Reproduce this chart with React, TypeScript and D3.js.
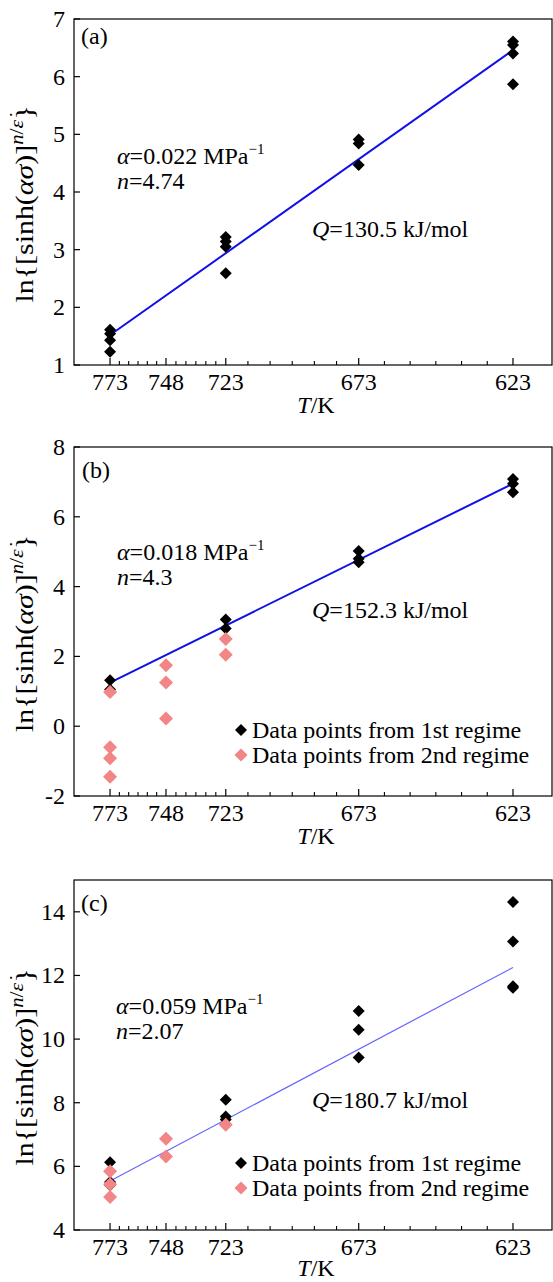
import React from "react";
import * as d3 from "d3";

// ---------- data ----------
const tempTicks = [773, 748, 723, 673, 623];

// Panel (a)
const aBlackT = [773, 773, 773, 773, 723, 723, 723, 723, 673, 673, 673, 623, 623, 623, 623];
const aBlackV = [1.61, 1.54, 1.43, 1.23, 3.22, 3.14, 3.05, 2.59, 4.91, 4.84, 4.47, 6.61, 6.55, 6.4, 5.87];
const aFitT = [773, 623];
const aFitV = [1.52, 6.46];

// Panel (b)
const bBlackT = [773, 773, 723, 723, 673, 673, 673, 623, 623, 623];
const bBlackV = [1.32, 1.05, 3.06, 2.8, 5.02, 4.8, 4.7, 7.08, 6.95, 6.7];
const bPinkT = [773, 773, 773, 773, 748, 748, 748, 723, 723];
const bPinkV = [0.98, -0.6, -0.92, -1.45, 1.75, 1.25, 0.22, 2.5, 2.05];
const bFitT = [773, 623];
const bFitV = [1.25, 6.95];

// Panel (c)
const cBlackT = [773, 773, 773, 723, 723, 723, 673, 673, 673, 623, 623, 623, 623];
const cBlackV = [6.13, 5.51, 5.41, 8.09, 7.57, 7.47, 10.88, 10.29, 9.42, 14.31, 13.07, 11.66, 11.61];
const cPinkT = [773, 773, 773, 748, 748, 723];
const cPinkV = [5.85, 5.44, 5.04, 6.87, 6.31, 7.31];
const cFitT = [773, 623];
const cFitV = [5.54, 12.25];

const yTicksA = [1, 2, 3, 4, 5, 6, 7];
const yTicksB = [-2, 0, 2, 4, 6, 8];
const yTicksC = [4, 6, 8, 10, 12, 14];

const legendLabels = ["Data points from 1st regime", "Data points from 2nd regime"];

// ---------- drawing ----------
const FONT = "'Liberation Serif', 'Times New Roman', Times, serif";
const FS = 24;
const LEFT = 74;
const RIGHT = 552;
const inv = (T: number) => 1000 / T;

const x = d3.scaleLinear().domain([1.2658, 1.6353]).range([LEFT, RIGHT]);

function minorTicks(): number[] {
  const out: number[] = [];
  const majors = tempTicks.map(inv);
  for (let i = 0; i < majors.length - 1; i++) {
    const a = majors[i], b = majors[i + 1];
    for (let k = 1; k < 6; k++) out.push(a + ((b - a) * k) / 6);
  }
  return out;
}

function Diamond({ cx, cy, r, fill }: { cx: number; cy: number; r: number; fill: string }) {
  return (
    <path
      d={`M${cx},${cy - r}L${cx + r},${cy}L${cx},${cy + r}L${cx - r},${cy}Z`}
      fill={fill}
    />
  );
}

type PanelProps = {
  top: number;
  bottom: number;
  yDomain: [number, number];
  yTicks: number[];
  tag: string;
  tagPos: [number, number];
  alpha: string;
  nVal: string;
  alphaPos: [number, number];
  q: string;
  qPos: [number, number];
  blackT: number[];
  blackV: number[];
  pinkT?: number[];
  pinkV?: number[];
  fitT: number[];
  fitV: number[];
  lineColor: string;
  lineWidth: number;
  legendPos?: [number, number];
  xLabelOffset: number;
};

function Panel(p: PanelProps) {
  const y = d3.scaleLinear().domain(p.yDomain).range([p.bottom, p.top]);
  const line = d3
    .line<number>()
    .x((_, i) => x(inv(p.fitT[i])))
    .y((v) => y(v));
  const midY = (p.top + p.bottom) / 2 + 12;
  return (
    <g fontFamily={FONT} fontSize={FS} fill="#000">
      <rect x={LEFT} y={p.top} width={RIGHT - LEFT} height={p.bottom - p.top} fill="none" stroke="#000" strokeWidth={1.2} />
      {/* x ticks */}
      {tempTicks.map((t) => (
        <g key={t}>
          <line x1={x(inv(t))} x2={x(inv(t))} y1={p.bottom} y2={p.bottom - 7} stroke="#000" strokeWidth={1.2} />
          <text x={x(inv(t))} y={p.bottom + 25} textAnchor="middle">{t}</text>
        </g>
      ))}
      {minorTicks().map((v, i) => (
        <line key={i} x1={x(v)} x2={x(v)} y1={p.bottom} y2={p.bottom - 4} stroke="#000" strokeWidth={1.1} />
      ))}
      {/* y ticks */}
      {p.yTicks.map((t) => (
        <g key={t}>
          <line x1={LEFT} x2={LEFT + 6} y1={y(t)} y2={y(t)} stroke="#000" strokeWidth={1.2} />
          <text x={LEFT - 9} y={y(t) + 8} textAnchor="end">{t}</text>
        </g>
      ))}
      {/* axis labels */}
      <text x={316} y={p.bottom + p.xLabelOffset} textAnchor="middle">
        <tspan fontStyle="italic">T</tspan>/K
      </text>
      <text
        transform={`translate(33,${midY}) rotate(-90) scale(1.15,1)`}
        textAnchor="middle"
        fontSize={26}
      >
        ln{"{"}[sinh(<tspan fontStyle="italic">ασ</tspan>)]
        <tspan fontStyle="italic" fontSize={18} dy={-10}>n</tspan>
        <tspan fontSize={19}>/</tspan>
        <tspan fontStyle="italic" fontSize={19}>ε̇</tspan>
        <tspan dy={10}>{"}"}</tspan>
      </text>
      {/* annotations */}
      <text x={p.tagPos[0]} y={p.tagPos[1]}>{p.tag}</text>
      <text x={p.alphaPos[0]} y={p.alphaPos[1]}>
        <tspan fontStyle="italic">α</tspan>=<tspan>{p.alpha} MPa</tspan>
        <tspan fontSize={15} dy={-10}>−1</tspan>
      </text>
      <text x={p.alphaPos[0]} y={p.alphaPos[1] + 25}>
        <tspan fontStyle="italic">n</tspan>={p.nVal}
      </text>
      <text x={p.qPos[0]} y={p.qPos[1]}>
        <tspan fontStyle="italic">Q</tspan>={p.q} kJ/mol
      </text>
      {/* fit line */}
      <path d={line(p.fitV) || ""} fill="none" stroke={p.lineColor} strokeWidth={p.lineWidth} />
      {/* points */}
      {p.blackV.map((v, i) => (
        <Diamond key={"b" + i} cx={x(inv(p.blackT[i]))} cy={y(v)} r={6} fill="#000" />
      ))}
      {p.pinkV &&
        p.pinkV.map((v, i) => (
          <Diamond key={"p" + i} cx={x(inv(p.pinkT![i]))} cy={y(v)} r={7} fill="#f28585" />
        ))}
      {p.legendPos && (
        <g>
          <Diamond cx={p.legendPos[0]} cy={p.legendPos[1] - 8} r={6} fill="#000" />
          <text x={p.legendPos[0] + 11} y={p.legendPos[1]}>{legendLabels[0]}</text>
          <Diamond cx={p.legendPos[0]} cy={p.legendPos[1] + 17} r={6.5} fill="#f28585" />
          <text x={p.legendPos[0] + 11} y={p.legendPos[1] + 25}>{legendLabels[1]}</text>
        </g>
      )}
    </g>
  );
}

export default function App() {
  return (
    <svg
      width={553}
      height={1282}
      style={{ position: "absolute", left: 0, top: 0, background: "#fff" }}
    >
      <rect width={553} height={1282} fill="#fff" />
      <Panel
        top={19}
        bottom={365}
        yDomain={[1, 7]}
        yTicks={yTicksA}
        tag="(a)"
        tagPos={[81, 44]}
        alpha="0.022"
        nVal="4.74"
        alphaPos={[117, 164]}
        q="130.5"
        qPos={[312, 237]}
        blackT={aBlackT}
        blackV={aBlackV}
        fitT={aFitT}
        fitV={aFitV}
        lineColor="#1010e8"
        lineWidth={2}
        xLabelOffset={48}
      />
      <Panel
        top={447}
        bottom={796}
        yDomain={[-2, 8]}
        yTicks={yTicksB}
        tag="(b)"
        tagPos={[82, 478]}
        alpha="0.018"
        nVal="4.3"
        alphaPos={[117, 560]}
        q="152.3"
        qPos={[312, 618]}
        blackT={bBlackT}
        blackV={bBlackV}
        pinkT={bPinkT}
        pinkV={bPinkV}
        fitT={bFitT}
        fitV={bFitV}
        lineColor="#1010e8"
        lineWidth={2}
        legendPos={[241, 738]}
        xLabelOffset={48}
      />
      <Panel
        top={880}
        bottom={1230}
        yDomain={[4, 15]}
        yTicks={yTicksC}
        tag="(c)"
        tagPos={[81, 911]}
        alpha="0.059"
        nVal="2.07"
        alphaPos={[116, 1014]}
        q="180.7"
        qPos={[312, 1108]}
        blackT={cBlackT}
        blackV={cBlackV}
        pinkT={cPinkT}
        pinkV={cPinkV}
        fitT={cFitT}
        fitV={cFitV}
        lineColor="#6666ff"
        lineWidth={1.2}
        legendPos={[241, 1171]}
        xLabelOffset={46}
      />
    </svg>
  );
}
